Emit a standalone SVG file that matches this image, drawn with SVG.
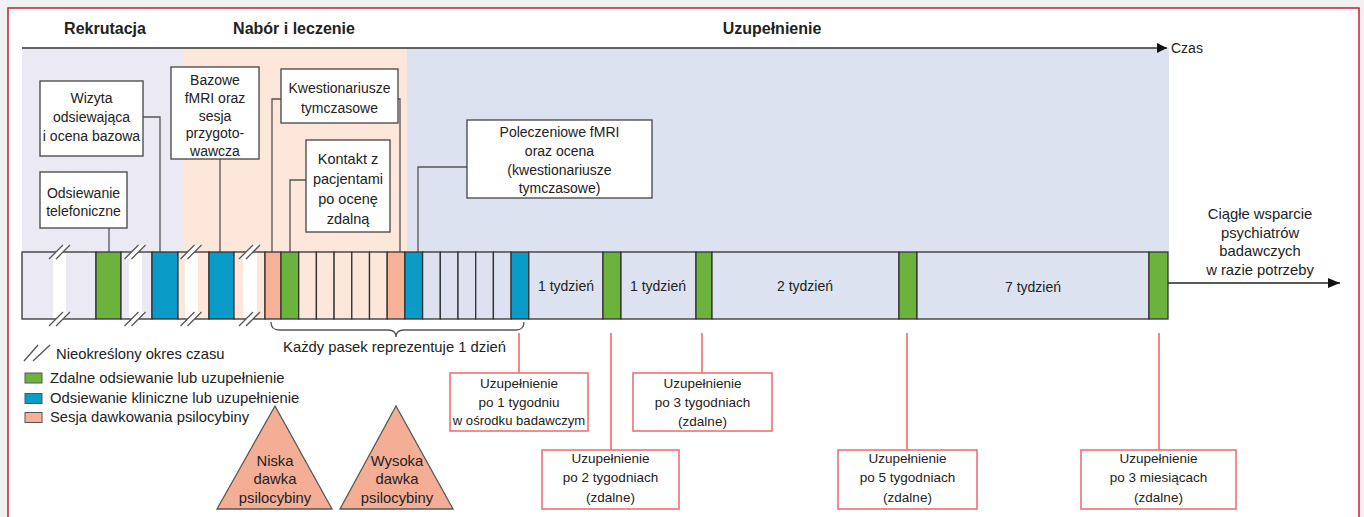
<svg xmlns="http://www.w3.org/2000/svg" xmlns:xlink="http://www.w3.org/1999/xlink" width="1364" height="517" viewBox="0 0 1364 517">
<style>
.t{font-family:"Liberation Sans",Arial,sans-serif;font-size:14px;fill:#222;text-anchor:middle}
.ts{font-size:13.5px}
.tl{font-size:14.8px}
.lg{text-anchor:start}
.h{font-weight:bold;font-size:16px}
.box{fill:#fff;stroke:#444;stroke-width:1.3}
.rbox{fill:#fff;stroke:#f06868;stroke-width:1.5}
.conn{fill:none;stroke:#555;stroke-width:1.3}
.rconn{fill:none;stroke:#f04848;stroke-width:1.3}
.c{stroke:#333;stroke-width:1.3}
.lav{fill:#ebe9f4}.pch{fill:#fde6da}.lb{fill:#dde2f0}
.gr{fill:#6cb33e}.bl{fill:#0a9cc6}.sa{fill:#f6b196}
</style>
<defs>
<marker id="ah" viewBox="0 0 10 10" refX="10" refY="5" markerWidth="10" markerHeight="10" markerUnits="userSpaceOnUse" orient="auto"><path d="M0,0 L10,5 L0,10 Z" fill="#111"/></marker>
<marker id="ah2" viewBox="0 0 12 10" refX="12" refY="5" markerWidth="12" markerHeight="10" markerUnits="userSpaceOnUse" orient="auto"><path d="M0,0 L12,5 L0,10 Z" fill="#111"/></marker>
<g id="brk"><polygon points="-11,7 3,-7 10,-7 -4,7" fill="#fff"/><line x1="-11" y1="7" x2="3" y2="-7" stroke="#555" stroke-width="1.3"/><line x1="-4" y1="7" x2="10" y2="-7" stroke="#555" stroke-width="1.3"/></g>
</defs>
<rect x="0" y="0" width="1364" height="517" fill="#f1f1f1"/>
<rect x="8" y="8" width="1351" height="530" fill="#fff" stroke="#c41e3a" stroke-width="1.5"/>

<g id="regions">
<rect x="22" y="48" width="161" height="204" class="lav"/>
<rect x="183" y="48" width="224" height="204" class="pch"/>
<rect x="407" y="48" width="762" height="204" class="lb"/>
</g>

<g id="headers">
<text class="t h" x="105" y="34">Rekrutacja</text>
<text class="t h" x="294" y="34">Nabór i leczenie</text>
<text class="t h" x="772" y="34">Uzupełnienie</text>
<text class="t lg" x="1171" y="53">Czas</text>
</g>

<g id="connectors">
<line x1="22" y1="48" x2="1167" y2="48" stroke="#333" stroke-width="1.3" marker-end="url(#ah)"/>
<path class="conn" d="M143,117 H160 V252"/>
<path class="conn" d="M109,228 V252"/>
<path class="conn" d="M220,159 V252"/>
<path class="conn" d="M281,99 H272 V252"/>
<path class="conn" d="M398,99 H400 V252"/>
<path class="conn" d="M306,180 H290 V252"/>
<path class="conn" d="M467,167 H418 V252"/>
<line x1="1168" y1="283" x2="1340" y2="283" stroke="#222" stroke-width="1.3" marker-end="url(#ah2)"/>
<path class="conn" d="M271,322 Q271,330 279,330 L388,330 Q396,330 396,337 Q396,330 404,330 L516,330 Q524,330 524,322"/>
<path class="rconn" d="M519,333 V373"/>
<path class="rconn" d="M611,333 V450"/>
<path class="rconn" d="M702,333 V373"/>
<path class="rconn" d="M907,333 V450"/>
<path class="rconn" d="M1159,333 V450"/>
</g>

<g id="bar">
<rect class="c lav" x="22" y="252" width="74" height="67"/>
<rect class="c gr" x="96" y="252" width="25" height="67"/>
<rect class="c lav" x="121" y="252" width="31" height="67"/>
<rect class="c bl" x="152" y="252" width="26" height="67"/>
<rect class="c pch" x="178" y="252" width="31" height="67"/>
<rect class="c bl" x="209" y="252" width="25" height="67"/>
<rect class="c pch" x="234" y="252" width="31" height="67"/>
<rect class="c sa" x="265" y="252" width="16" height="67"/>
<rect class="c gr" x="281" y="252" width="17.7" height="67"/>
<rect class="c pch" x="298.7" y="252" width="17.7" height="67"/>
<rect class="c pch" x="316.4" y="252" width="17.7" height="67"/>
<rect class="c pch" x="334.1" y="252" width="17.7" height="67"/>
<rect class="c pch" x="351.8" y="252" width="17.7" height="67"/>
<rect class="c pch" x="369.5" y="252" width="17.7" height="67"/>
<rect class="c sa" x="387.2" y="252" width="17.7" height="67"/>
<rect class="c bl" x="404.9" y="252" width="17.7" height="67"/>
<rect class="c lb" x="422.6" y="252" width="17.7" height="67"/>
<rect class="c lb" x="440.3" y="252" width="17.7" height="67"/>
<rect class="c lb" x="458" y="252" width="17.7" height="67"/>
<rect class="c lb" x="475.7" y="252" width="17.7" height="67"/>
<rect class="c lb" x="493.4" y="252" width="17.7" height="67"/>
<rect class="c bl" x="511.1" y="252" width="17.7" height="67"/>
<rect class="c lb" x="528.8" y="252" width="74.2" height="67"/>
<rect class="c gr" x="603" y="252" width="18" height="67"/>
<rect class="c lb" x="621" y="252" width="75" height="67"/>
<rect class="c gr" x="696" y="252" width="16" height="67"/>
<rect class="c lb" x="712" y="252" width="187" height="67"/>
<rect class="c gr" x="899" y="252" width="18" height="67"/>
<rect class="c lb" x="917" y="252" width="232" height="67"/>
<rect class="c gr" x="1149" y="252" width="19" height="67"/>
<rect x="53" y="253" width="13" height="65" fill="#fff"/>
<rect x="129" y="253" width="13" height="65" fill="#fff"/>
<rect x="185" y="253" width="13" height="65" fill="#fff"/>
<rect x="243" y="253" width="14" height="65" fill="#fff"/>
<use xlink:href="#brk" x="60" y="252"/><use xlink:href="#brk" x="60" y="319"/>
<use xlink:href="#brk" x="135.5" y="252"/><use xlink:href="#brk" x="135.5" y="319"/>
<use xlink:href="#brk" x="191.5" y="252"/><use xlink:href="#brk" x="191.5" y="319"/>
<use xlink:href="#brk" x="250" y="252"/><use xlink:href="#brk" x="250" y="319"/>
<text class="t" x="566" y="291">1 tydzień</text>
<text class="t" x="658" y="291">1 tydzień</text>
<text class="t" x="805" y="291">2 tydzień</text>
<text class="t" x="1033" y="292">7 tydzień</text>
</g>

<g id="n-wizyta"><rect class="box" x="40" y="81" width="103" height="75"/>
<text class="t" x="91.5" y="103">Wizyta</text><text class="t" x="91.5" y="122">odsiewająca</text><text class="t" x="91.5" y="141">i ocena bazowa</text></g>
<g id="n-telefon"><rect class="box" x="40" y="172" width="87" height="56"/>
<text class="t" x="83.5" y="198">Odsiewanie</text><text class="t" x="83.5" y="216">telefoniczne</text></g>
<g id="n-bazowe"><rect class="box" x="171" y="67" width="88" height="92"/>
<text class="t" x="215" y="85">Bazowe</text><text class="t" x="215" y="103">fMRI oraz</text><text class="t" x="215" y="120.5">sesja</text><text class="t" x="215" y="138">przygoto-</text><text class="t" x="215" y="155.5">wawcza</text></g>
<g id="n-kwest"><rect class="box" x="281" y="69" width="117" height="54"/>
<text class="t" x="339.5" y="93">Kwestionariusze</text><text class="t" x="339.5" y="113">tymczasowe</text></g>
<g id="n-kontakt"><rect class="box" x="306" y="140" width="84" height="92"/>
<text class="t" x="348" y="163.5" style="font-size:14.5px">Kontakt z</text><text class="t" x="348" y="184" style="font-size:14.5px">pacjentami</text><text class="t" x="348" y="204" style="font-size:14.5px">po ocenę</text><text class="t" x="348" y="223.5" style="font-size:14.5px">zdalną</text></g>
<g id="n-polecz"><rect class="box" x="467" y="120" width="185" height="78"/>
<text class="t" x="559.5" y="137">Poleczeniowe fMRI</text><text class="t" x="559.5" y="156">oraz ocena</text><text class="t" x="559.5" y="174.5">(kwestionariusze</text><text class="t" x="559.5" y="193">tymczasowe)</text></g>
<g id="n-wsparcie">
<text class="t tl" x="1260" y="219">Ciągłe wsparcie</text><text class="t tl" x="1260" y="238">psychiatrów</text><text class="t tl" x="1260" y="256">badawczych</text><text class="t tl" x="1260" y="275">w razie potrzeby</text></g>
<g id="n-brace-label"><text class="t tl" x="394.5" y="352">Każdy pasek reprezentuje 1 dzień</text></g>

<g id="legend">
<line x1="24" y1="361" x2="38" y2="345" stroke="#555" stroke-width="1.3"/>
<line x1="33" y1="361" x2="50" y2="345" stroke="#555" stroke-width="1.3"/>
<text class="t tl lg" x="56" y="359">Nieokreślony okres czasu</text>
<rect class="c gr" x="25" y="373" width="17" height="10" style="stroke:#555;stroke-width:1"/>
<text class="t tl lg" x="50" y="383">Zdalne odsiewanie lub uzupełnienie</text>
<rect class="c bl" x="25" y="393.5" width="17" height="10" style="stroke:#555;stroke-width:1"/>
<text class="t tl lg" x="50" y="403">Odsiewanie kliniczne lub uzupełnienie</text>
<rect class="c sa" x="25" y="412.5" width="17" height="10" style="stroke:#555;stroke-width:1"/>
<text class="t tl lg" x="50" y="422">Sesja dawkowania psilocybiny</text>
</g>

<g id="n-niska"><polygon points="275,406 217,509 332,509" fill="#f4ae96" stroke="#555" stroke-width="1.3"/>
<text class="t tl" x="275" y="466">Niska</text><text class="t tl" x="275" y="484">dawka</text><text class="t tl" x="275" y="503">psilocybiny</text></g>
<g id="n-wysoka"><polygon points="396,406 340,509 453,509" fill="#f4ae96" stroke="#555" stroke-width="1.3"/>
<text class="t tl" x="397" y="466">Wysoka</text><text class="t tl" x="397" y="484">dawka</text><text class="t tl" x="397" y="503">psilocybiny</text></g>

<g id="n-fu1"><rect class="rbox" x="450" y="373" width="138" height="58"/>
<text class="t ts" x="519" y="388">Uzupełnienie</text><text class="t ts" x="519" y="407">po 1 tygodniu</text><text class="t" x="519" y="425" style="font-size:13.1px">w ośrodku badawczym</text></g>
<g id="n-fu2"><rect class="rbox" x="542" y="450" width="137" height="59"/>
<text class="t ts" x="610.5" y="463">Uzupełnienie</text><text class="t ts" x="610.5" y="482">po 2 tygodniach</text><text class="t ts" x="610.5" y="502">(zdalne)</text></g>
<g id="n-fu3"><rect class="rbox" x="633" y="373" width="139" height="58"/>
<text class="t ts" x="702.5" y="388">Uzupełnienie</text><text class="t ts" x="702.5" y="407">po 3 tygodniach</text><text class="t ts" x="702.5" y="426">(zdalne)</text></g>
<g id="n-fu5"><rect class="rbox" x="838" y="450" width="139" height="59"/>
<text class="t ts" x="907.5" y="463">Uzupełnienie</text><text class="t ts" x="907.5" y="482">po 5 tygodniach</text><text class="t ts" x="907.5" y="502">(zdalne)</text></g>
<g id="n-fu3m"><rect class="rbox" x="1081" y="450" width="155" height="59"/>
<text class="t ts" x="1158.5" y="463">Uzupełnienie</text><text class="t ts" x="1158.5" y="482">po 3 miesiącach</text><text class="t ts" x="1158.5" y="502">(zdalne)</text></g>
</svg>
